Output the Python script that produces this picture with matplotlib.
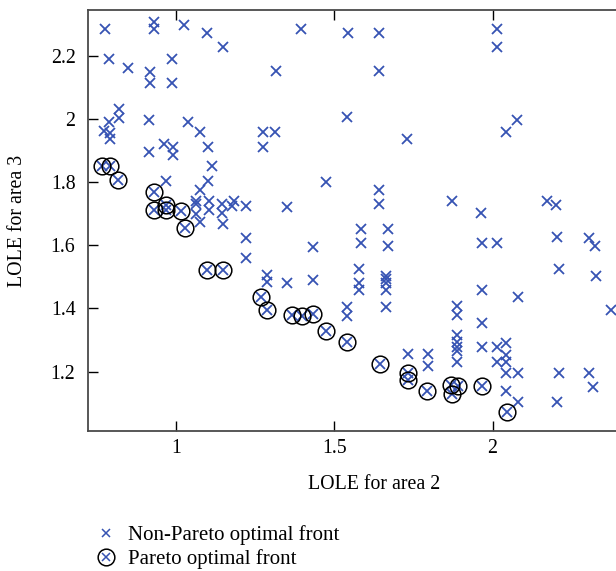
"""
scatter of LOLE for area 2 vs area 3, pareto front highlighted
"""
import numpy as np
import matplotlib
matplotlib.use('Agg')
import matplotlib.pyplot as plt
from matplotlib.lines import Line2D

# non-pareto solutions (LOLE area 2, LOLE area 3)
non_pareto_x = [0.774, 0.929, 0.929, 1.025, 1.098, 1.147, 1.393, 1.542, 1.641, 2.013,
                2.013, 0.787, 0.847, 0.987, 0.915, 0.915, 0.987, 1.314, 1.641, 0.817,
                0.817, 0.787, 0.913, 1.036, 0.771, 0.791, 0.791, 1.075, 1.274, 1.312,
                1.540, 2.078, 2.042, 1.731, 0.960, 0.989, 0.989, 0.913, 1.100, 1.274,
                1.112, 0.966, 1.100, 1.474, 1.075, 1.641, 1.641, 1.063, 1.063, 1.102,
                1.102, 1.063, 1.144, 1.145, 1.181, 1.176, 1.221, 1.350, 1.074, 1.146,
                1.873, 1.965, 2.172, 2.202, 1.219, 1.219, 1.433, 1.433, 1.285, 1.285,
                1.349, 1.583, 1.670, 1.583, 1.670, 1.577, 1.577, 1.577, 1.663, 1.663,
                1.663, 1.663, 1.663, 1.540, 1.540, 1.968, 2.015, 2.203, 2.304, 2.325,
                2.210, 2.326, 1.968, 2.080, 1.889, 1.889, 1.968, 2.376, 1.889, 1.889,
                1.889, 1.889, 1.889, 1.968, 2.015, 2.044, 2.044, 2.015, 2.044, 2.044,
                2.080, 2.210, 2.304, 2.318, 2.044, 2.080, 2.204, 1.732, 1.795, 1.795]
non_pareto_y = [2.284, 2.306, 2.283, 2.296, 2.270, 2.226, 2.284, 2.270, 2.270, 2.284,
                2.228, 2.189, 2.160, 2.189, 2.148, 2.112, 2.112, 2.151, 2.151, 2.032,
                2.001, 1.990, 1.995, 1.990, 1.962, 1.956, 1.936, 1.959, 1.959, 1.959,
                2.006, 1.996, 1.959, 1.935, 1.920, 1.910, 1.884, 1.894, 1.910, 1.910,
                1.851, 1.803, 1.803, 1.801, 1.773, 1.774, 1.729, 1.741, 1.729, 1.741,
                1.711, 1.698, 1.729, 1.703, 1.741, 1.724, 1.724, 1.722, 1.673, 1.666,
                1.741, 1.703, 1.741, 1.728, 1.622, 1.558, 1.595, 1.491, 1.507, 1.483,
                1.479, 1.650, 1.650, 1.606, 1.597, 1.523, 1.480, 1.458, 1.503, 1.492,
                1.481, 1.459, 1.404, 1.404, 1.377, 1.608, 1.608, 1.627, 1.623, 1.597,
                1.523, 1.502, 1.459, 1.435, 1.406, 1.380, 1.355, 1.395, 1.317, 1.294,
                1.278, 1.265, 1.230, 1.278, 1.278, 1.292, 1.254, 1.229, 1.229, 1.195,
                1.195, 1.196, 1.197, 1.152, 1.139, 1.104, 1.104, 1.255, 1.255, 1.218]

# pareto optimal front
pareto_x = [0.764, 0.791, 0.815, 0.930, 0.966, 0.930, 0.966, 1.014, 1.028, 1.097,
            1.146, 1.269, 1.285, 1.364, 1.397, 1.433, 1.473, 1.538, 1.645, 1.732,
            1.732, 1.793, 1.868, 1.891, 1.873, 1.966, 2.045]
pareto_y = [1.851, 1.851, 1.805, 1.767, 1.728, 1.711, 1.711, 1.709, 1.653, 1.521,
            1.521, 1.435, 1.395, 1.379, 1.377, 1.381, 1.327, 1.293, 1.223, 1.197,
            1.173, 1.138, 1.156, 1.155, 1.128, 1.154, 1.071]

x_ticks = [1, 1.5, 2]
x_tick_labels = ['1', '1.5', '2']
y_ticks = [1.2, 1.4, 1.6, 1.8, 2.0, 2.2]
y_tick_labels = ['1.2', '1.4', '1.6', '1.8', '2', '2.2']

blue = '#3653b3'
plt.rcParams['font.family'] = ['Liberation Serif', 'DejaVu Serif']

fig = plt.figure(figsize=(6.16, 5.71), dpi=100)
# axes runs past the right edge of the picture, like the original crop
ax = fig.add_axes([88 / 616, 140 / 571, 572 / 616, 421 / 571])

ax.plot(non_pareto_x, non_pareto_y, ls='', marker='x', ms=7, mew=1.3,
        color=blue, clip_on=False)
ax.plot(pareto_x, pareto_y, ls='', marker='x', ms=7, mew=1.3, color=blue)
ax.plot(pareto_x, pareto_y, ls='', marker='o', ms=12, mew=1.1,
        mfc='none', mec='black')

ax.set_xlim(0.72, 2.53)
ax.set_ylim(1.012, 2.344)
ax.set_xticks(x_ticks)
ax.set_xticklabels(x_tick_labels)
ax.set_yticks(y_ticks)
ax.set_yticklabels(y_tick_labels)
ax.tick_params(direction='in', length=7, width=1, labelsize=14.3,
               top=True, right=True)
ax.tick_params(axis='y', pad=9)
ax.tick_params(axis='x', pad=6)
for s in ax.spines.values():
    s.set_color('#4a4a4a')
    s.set_linewidth(1.3)
ax.set_xlabel('LOLE for area 2', fontsize=14.3, labelpad=12)
ax.set_ylabel('LOLE for area 3', fontsize=14.3, labelpad=17)

h1 = Line2D([], [], ls='', marker='x', ms=6, mew=1.1, color=blue)
h2c = Line2D([], [], ls='', marker='o', ms=12, mew=1.1, mfc='none', mec='black')
h2x = Line2D([], [], ls='', marker='x', ms=6, mew=1.1, color=blue)
fig.legend([h1, (h2c, h2x)], ['Non-Pareto optimal front', 'Pareto optimal front'],
           loc='upper left', bbox_to_anchor=(96 / 616, 1 - 525 / 571),
           frameon=False, fontsize=15, handlelength=1.0, handletextpad=0.55,
           labelspacing=0.2, borderaxespad=0, borderpad=0)

fig.savefig('out.png', dpi=100)
